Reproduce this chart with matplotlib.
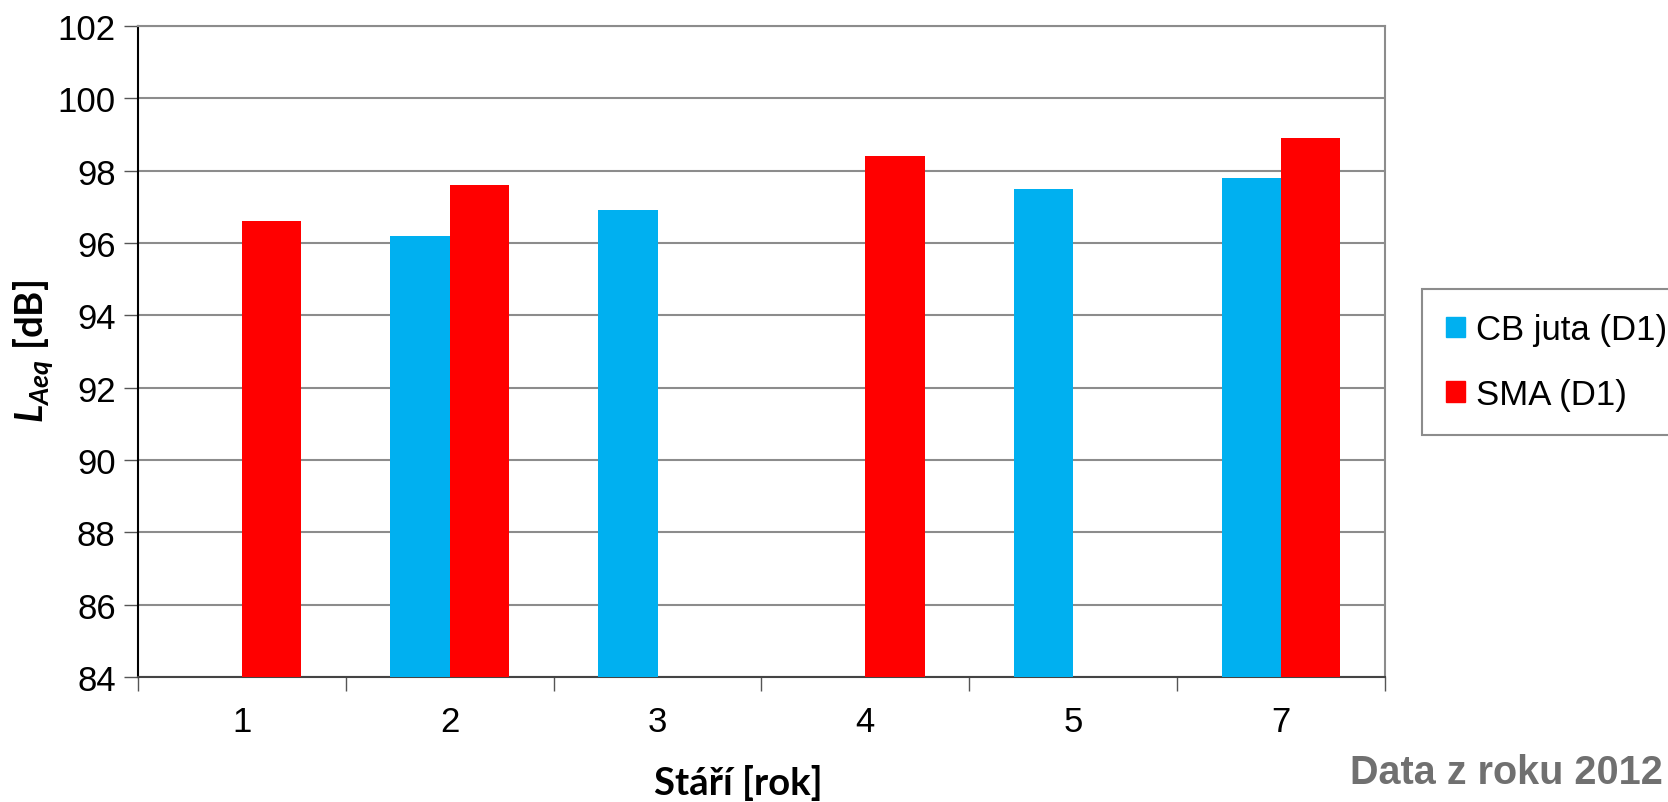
import matplotlib
matplotlib.use("Agg")
import matplotlib.pyplot as plt
import numpy as np
from matplotlib.patches import Patch

categories = ["1", "2", "3", "4", "5", "7"]
cb_juta = [np.nan, 96.2, 96.9, np.nan, 97.5, 97.8]
sma = [96.6, 97.6, np.nan, 98.4, np.nan, 98.9]
series_names = ["CB juta (D1)", "SMA (D1)"]
colors = ["#00B0F0", "#FF0000"]
yticks = list(range(84, 103, 2))

plt.rcParams['font.family'] = ['Liberation Sans', 'DejaVu Sans']
plt.rcParams['mathtext.fontset'] = 'custom'
plt.rcParams['mathtext.it'] = 'Lato:italic:bold'
plt.rcParams['mathtext.rm'] = 'Lato:bold'

fig = plt.figure(figsize=(16.68, 8.03), dpi=100)
ax = fig.add_axes([0.0827, 0.1557, 0.7476, 0.8107])

x = np.arange(len(categories))
w = 0.285
base = 84
cb_arr = np.array(cb_juta)
sma_arr = np.array(sma)
ax.bar(x - w/2, cb_arr - base, w, bottom=base, color=colors[0], zorder=3)
ax.bar(x + w/2, sma_arr - base, w, bottom=base, color=colors[1], zorder=3)

ax.set_ylim(84, 102)
ax.set_xlim(-0.5, len(categories) - 0.5)
ax.set_yticks(yticks)
ax.set_yticklabels([str(t) for t in yticks], fontsize=25)
ax.yaxis.grid(True, color="#8c8c8c", linewidth=1.5, zorder=0)
ax.set_axisbelow(True)

ax.set_xticks(x)
ax.set_xticklabels(categories, fontsize=25)
ax.tick_params(axis='x', which='major', length=0, pad=20)
ax.set_xticks(np.arange(-0.5, len(categories)), minor=True)
ax.tick_params(axis='x', which='minor', length=10, width=1, color="#555555", direction='out')
ax.tick_params(axis='y', length=10, width=1, color="#555555", direction='out', pad=6)

for s in ['top', 'right']:
    ax.spines[s].set_color("#8c8c8c")
    ax.spines[s].set_linewidth(1.5)
ax.spines['left'].set_color("black")
ax.spines['left'].set_linewidth(1.5)
ax.spines['bottom'].set_color("#444444")
ax.spines['bottom'].set_linewidth(1.5)

fig.text(0.4425, 0.025, "Stáří [rok]", fontsize=27.5, fontweight='bold', family='Lato',
         ha='center', va='center')
fig.text(0.02, 0.562, r"$L_{Aeq}$ [dB]", fontsize=27.5, fontweight='bold', family='Lato',
         ha='center', va='center', rotation=90)

handles = [Patch(color=c) for c in colors]
leg = fig.legend(handles, series_names, loc='upper left', bbox_to_anchor=(0.8525, 1 - 290/803),
                 fontsize=25, frameon=True, fancybox=False, edgecolor="#707070",
                 handlelength=0.55, handleheight=0.55, handletextpad=0.3,
                 labelspacing=0.9, borderpad=0.7, borderaxespad=0)
leg.get_frame().set_linewidth(1.5)

fig.text(0.997, 1 - 784/803, "Data z roku 2012", fontsize=28.5, fontweight='bold', color="#707070",
         ha='right', va='baseline')

fig.savefig("out.png", dpi=100)
